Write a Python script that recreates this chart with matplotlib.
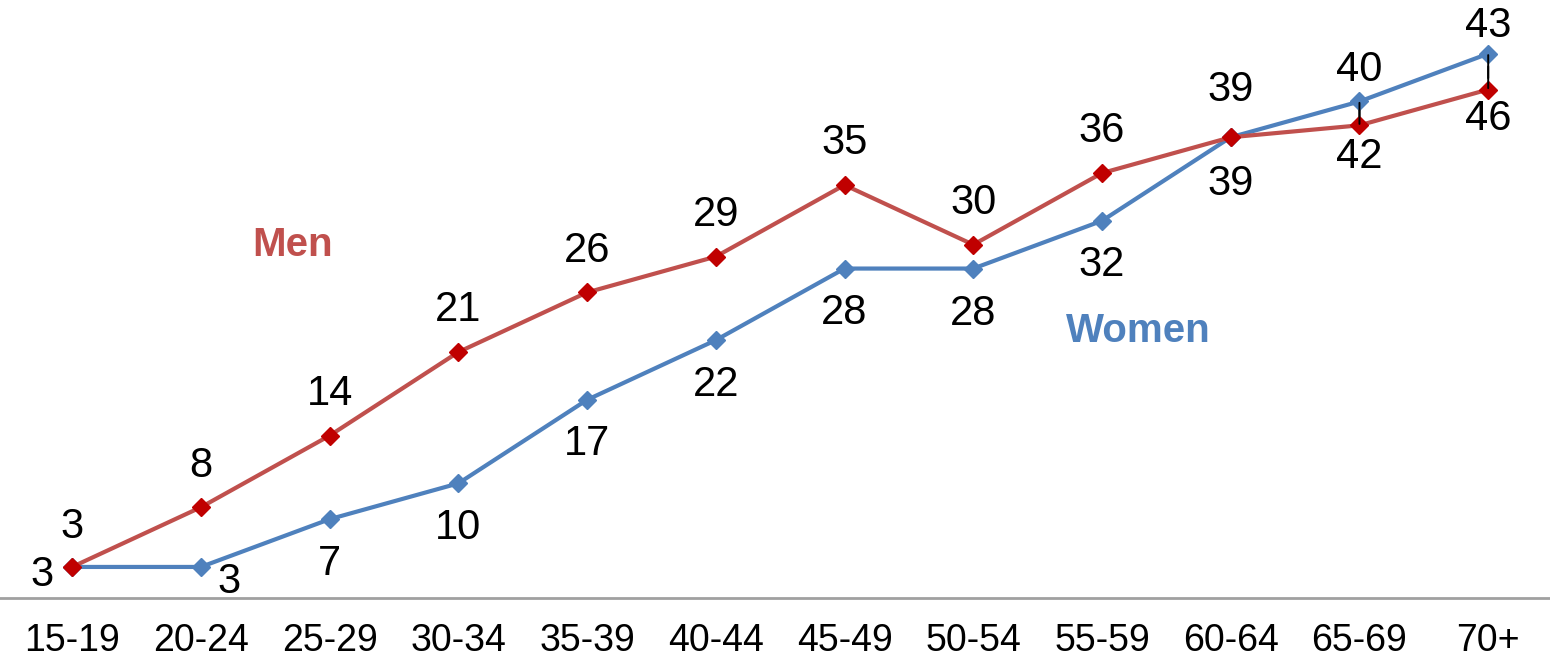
import matplotlib.pyplot as plt

plt.rcParams['font.family'] = ['Liberation Sans', 'DejaVu Sans']

# 数据
ages = ['15-19', '20-24', '25-29', '30-34', '35-39', '40-44',
        '45-49', '50-54', '55-59', '60-64', '65-69', '70+']
men = [3, 8, 14, 21, 26, 29, 35, 30, 36, 39, 40, 43]
women = [3, 3, 7, 10, 17, 22, 28, 28, 32, 39, 42, 46]

men_color = '#C0504D'
women_color = '#4F81BD'

fig = plt.figure(figsize=(15.5, 6.59), dpi=100)
ax = fig.add_axes([0, 0.0926, 1, 0.9074])

x = list(range(len(ages)))
ax.plot(x, women, color=women_color, lw=3, marker='D', ms=9,
        mfc=women_color, mec=women_color, zorder=3)
ax.plot(x, men, color=men_color, lw=3, marker='D', ms=9,
        mfc='#C00000', mec='#C00000', zorder=4)

# 标签位置 (offset points)
men_off = [(-22, -6), (0, 30), (0, 30), (0, 30), (0, 30), (0, 30),
           (0, 30), (0, 30), (0, 30), (0, 34), (0, 40), (0, 46)]
women_off = [(0, 29), (20, -11), (0, -32), (0, -32), (0, -32), (0, -32),
             (0, -32), (0, -33), (0, -32), (0, -34), (0, -40), (0, -47)]

for i in x:
    line = dict(arrowstyle='-', color='black', lw=1.4, shrinkA=13, shrinkB=1) if i >= 10 else None
    ax.annotate(str(men[i]), (i, men[i]), xytext=men_off[i], textcoords='offset points',
                ha='center', va='center', fontsize=30, color='black',
                arrowprops=line, zorder=5)
    ax.annotate(str(women[i]), (i, women[i]), xytext=women_off[i], textcoords='offset points',
                ha='center', va='center', fontsize=30, color='black',
                arrowprops=line, zorder=5)

ax.text(1.71, 30.0, 'Men', color=men_color, fontsize=29, fontweight='bold', ha='center', va='center')
ax.text(8.28, 22.8, 'Women', color=women_color, fontsize=29, fontweight='bold', ha='center', va='center')

ax.set_xlim(-0.56, 11.48)
ax.set_ylim(0.4, 50.5)
ax.set_xticks(x)
ax.set_xticklabels(ages, fontsize=27)
ax.tick_params(axis='x', length=0, pad=18)
ax.set_yticks([])
for s in ['top', 'right', 'left']:
    ax.spines[s].set_visible(False)
ax.spines['bottom'].set_color('#A0A0A0')
ax.spines['bottom'].set_linewidth(2)

plt.savefig('out.png', dpi=100)
